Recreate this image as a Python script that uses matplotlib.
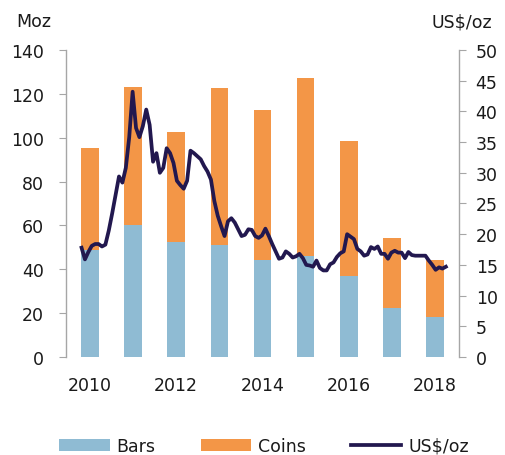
import matplotlib
matplotlib.use("Agg")
import matplotlib.pyplot as plt
import numpy as np
from matplotlib.patches import Patch
from matplotlib.lines import Line2D

years = [2010, 2011, 2012, 2013, 2014, 2015, 2016, 2017, 2018]
bars = [48.9, 60.0, 52.6, 51.1, 44.2, 45.9, 36.9, 22.2, 18.1]
totals = [95.3, 123.3, 102.6, 122.5, 112.6, 127.4, 98.5, 54.1, 44.4]
coins = [t - b for t, b in zip(totals, bars)]

# monthly silver price, Jan 2010 - Dec 2018 (US$/oz)
price = [
    17.8, 15.9, 17.1, 18.1, 18.4, 18.4, 18.0, 18.3, 20.6, 23.4, 26.4, 29.4,
    28.4, 30.8, 35.8, 43.2, 37.3, 35.8, 37.6, 40.3, 37.8, 31.8, 33.2, 30.0,
    30.8, 34.0, 33.2, 31.6, 28.7, 28.0, 27.4, 28.7, 33.6, 33.2, 32.7, 32.2,
    31.1, 30.2, 28.9, 25.4, 23.0, 21.3, 19.7, 22.1, 22.6, 21.9, 20.8, 19.7,
    19.9, 20.8, 20.7, 19.7, 19.4, 19.8, 20.9, 19.7, 18.4, 17.2, 16.0, 16.2,
    17.2, 16.8, 16.2, 16.4, 16.8, 16.1, 15.0, 14.9, 14.7, 15.7, 14.5, 14.1,
    14.1, 15.1, 15.4, 16.3, 16.9, 17.2, 20.0, 19.6, 19.2, 17.6, 17.2, 16.5,
    16.7, 17.9, 17.6, 18.0, 16.8, 16.8, 16.0, 17.0, 17.3, 17.0, 17.0, 16.1,
    17.1, 16.6, 16.5, 16.5, 16.5, 16.5, 15.7, 15.0, 14.2, 14.6, 14.4, 14.7,
]

c_bars = "#8FBBD3"
c_coins = "#F39647"
c_line = "#22184F"
c_spine = "#A6A6A6"
fs = 12.5

fig = plt.figure(figsize=(5.05, 4.56), dpi=100)
ax = fig.add_axes([0.1307, 0.2149, 0.9089 - 0.1307, 0.8882 - 0.2149])

x = np.array(years, dtype=float)
w = 0.405
ax.bar(x, bars, width=w, color=c_bars, zorder=2)
ax.bar(x, coins, width=w, bottom=bars, color=c_coins, zorder=2)
ax.set_xlim(2009.45, 2018.55)
ax.set_ylim(0, 140)
ax.set_yticks(range(0, 141, 20))
ax.set_xticks([2010, 2012, 2014, 2016, 2018])

ax2 = ax.twinx()
line_start = 2009.81
line_step = 0.07884
lx = line_start + np.arange(len(price)) * line_step
ax2.plot(lx, price, color=c_line, lw=2.7, solid_joinstyle="round", zorder=3)
ax2.set_ylim(0, 50)
ax2.set_yticks(range(0, 51, 5))
ax2.set_xlim(2009.45, 2018.55)

for a in (ax, ax2):
    a.spines["top"].set_visible(False)
    a.spines["bottom"].set_visible(False)
    a.spines["left"].set_color(c_spine)
    a.spines["right"].set_color(c_spine)
    a.spines["left"].set_linewidth(1.0)
    a.spines["right"].set_linewidth(1.0)

ax.spines["right"].set_visible(False)
ax2.spines["left"].set_visible(False)
ax.tick_params(axis="y", direction="out", length=5, color=c_spine, labelsize=fs, pad=11, labelcolor="#1a1a1a")
ax.tick_params(axis="x", length=0, labelsize=fs, pad=14, labelcolor="#1a1a1a")
ax2.tick_params(axis="y", direction="out", length=5, color=c_spine, labelsize=fs, pad=7, labelcolor="#1a1a1a")

fig.text(16 / 505, 1 - 22 / 456, "Moz", fontsize=fs, va="center", ha="left", color="#1a1a1a")
fig.text(492 / 505, 1 - 22 / 456, "US$/oz", fontsize=fs, va="center", ha="right", color="#1a1a1a")

handles = [
    Patch(facecolor=c_bars, edgecolor="none", label="Bars"),
    Patch(facecolor=c_coins, edgecolor="none", label="Coins"),
    Line2D([0], [0], color=c_line, lw=2.7, label="US$/oz"),
]
fig.legend(handles=handles, loc="center", bbox_to_anchor=(264 / 505, 1 - 447 / 456),
           ncol=3, frameon=False, fontsize=fs, handlelength=2.9, handleheight=0.75,
           handletextpad=0.4, columnspacing=2.6, labelcolor="#1a1a1a")

fig.savefig("out.png", dpi=100)
